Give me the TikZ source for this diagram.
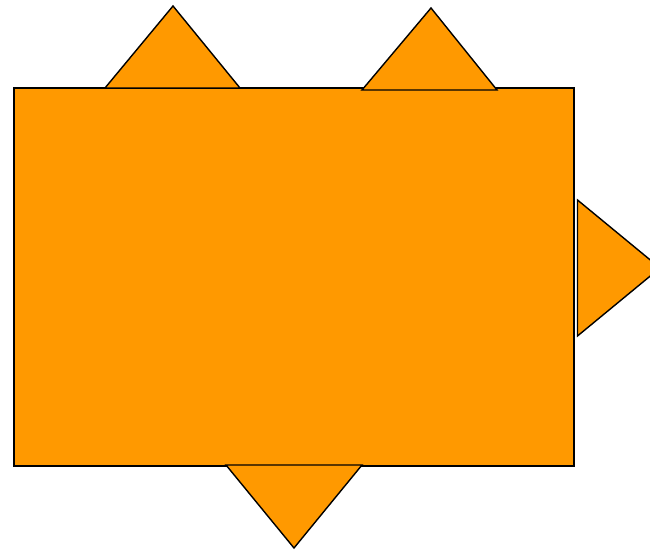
\documentclass[tikz,border=0pt]{standalone}
\usepackage{tikz}
\definecolor{shapeOrange}{RGB}{255,153,0}
\tikzset{
  orangepart/.style={fill=shapeOrange, draw=black, line width=0.8pt, line join=miter}
}

\begin{document}
\begin{tikzpicture}[x=0.02cm, y=-0.02cm]
\useasboundingbox (0,0) rectangle (650,550);
\clip (0,0) rectangle (650,550);
% body
\draw[orangepart] (14,88) rectangle (574,466);
% spikes
\draw[orangepart] (105,88) -- (173,6) -- (240,88) -- cycle;
\draw[orangepart] (362,90) -- (431,8) -- (497,90) -- cycle;
\draw[orangepart] (577.5,200) -- (660,268) -- (577.5,336) -- cycle;
\draw[orangepart] (226,465) -- (294,548) -- (362,465) -- cycle;
\end{tikzpicture}
\end{document}
